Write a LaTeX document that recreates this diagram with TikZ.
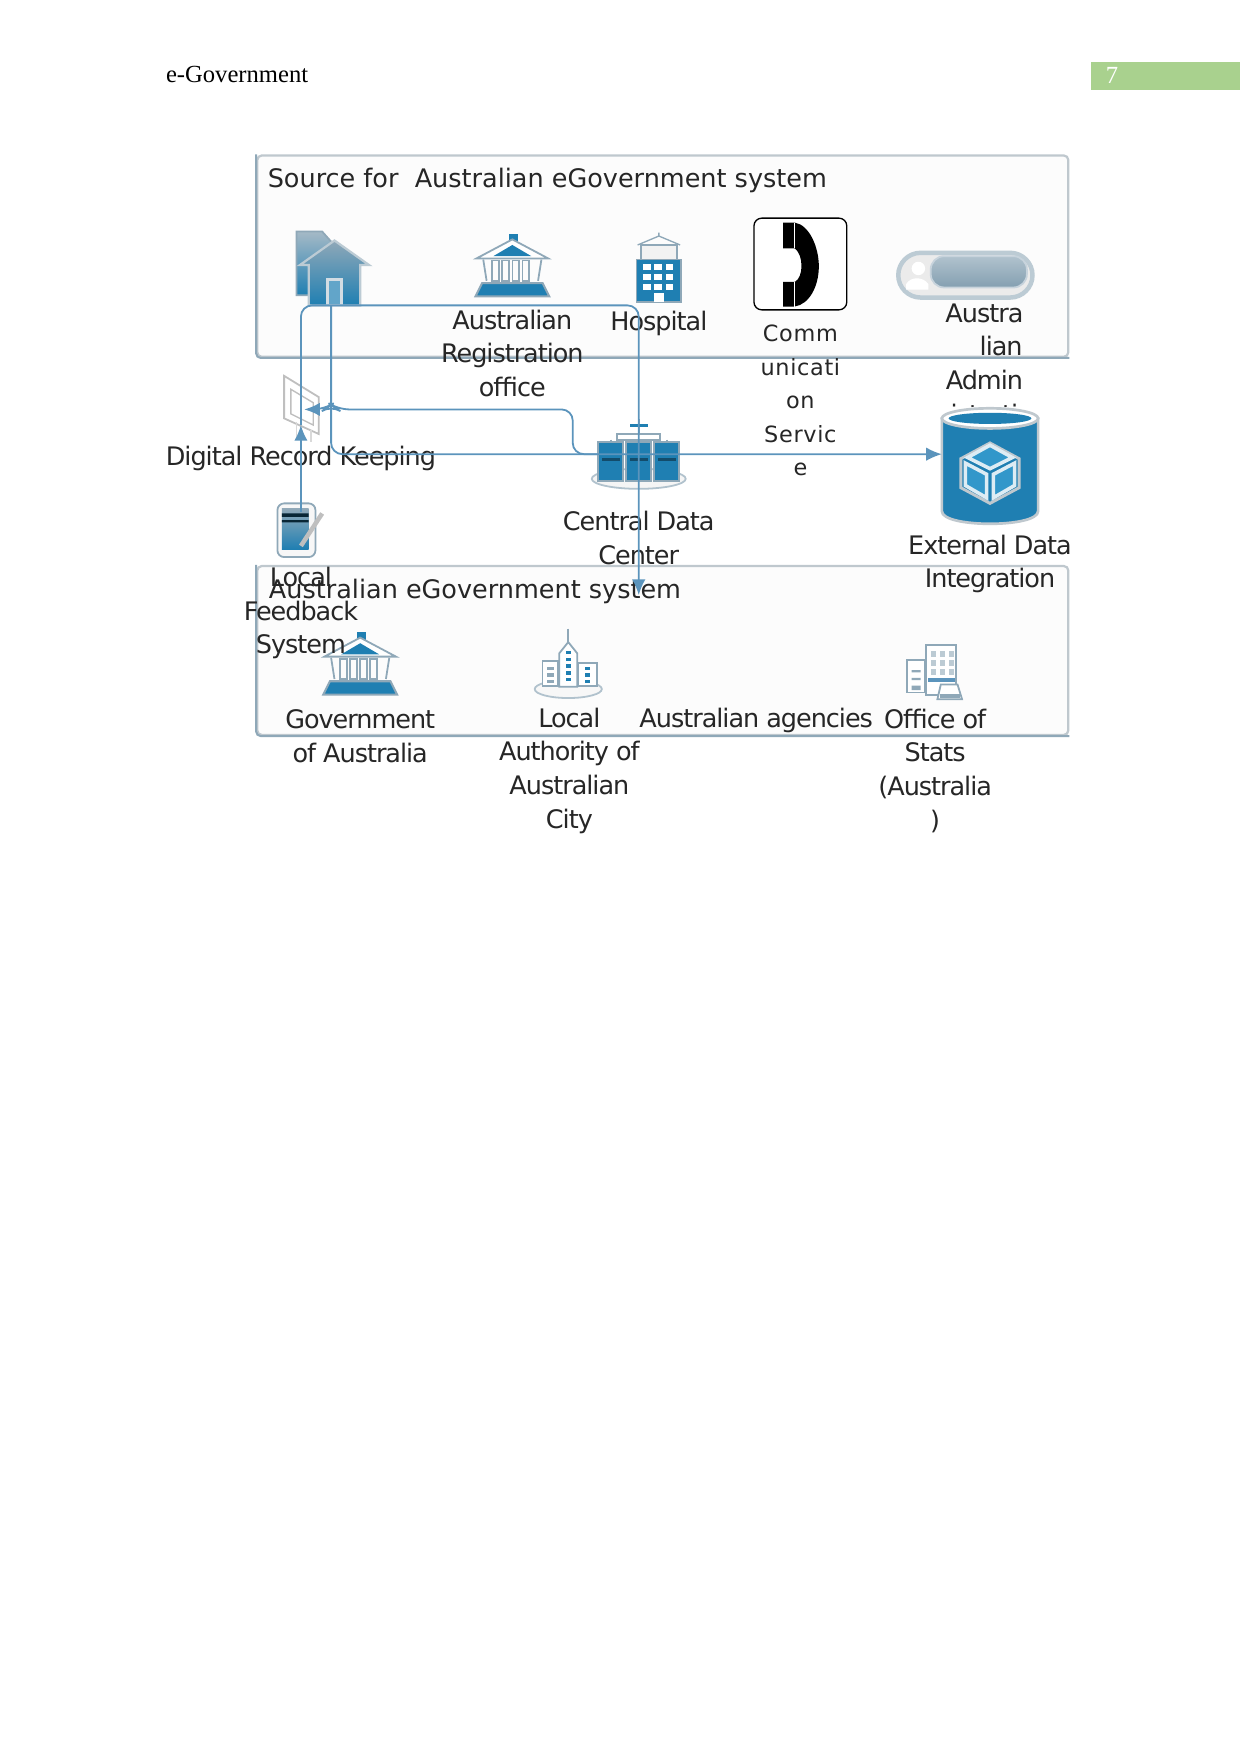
\documentclass[tikz,border=0pt]{standalone}
\usepackage{fontspec}
\setmainfont{Liberation Serif}
\newfontfamily\labelfont[LetterSpace=-4]{DejaVu Sans}
\newfontfamily\wordfont{DejaVu Sans}
\newfontfamily\commfont[LetterSpace=3]{DejaVu Sans}
\usetikzlibrary{arrows.meta}
\definecolor{flowblue}{HTML}{5B94BC}
\definecolor{iconblue}{HTML}{1F7FB2}
\definecolor{iconline}{HTML}{8FA8B8}
\definecolor{edgegray}{HTML}{BFC8CE}
\definecolor{pagegreen}{HTML}{A9D18E}
\tikzset{
    lbl/.style={align=center,inner sep=0pt,text=black!85,font=\labelfont\fontsize{11.4}{15}\selectfont},
    commlbl/.style={lbl,font=\commfont\fontsize{10}{15}\selectfont},
    boxtitle/.style={anchor=west,inner sep=0pt,text=black!85,font=\wordfont\fontsize{11.4}{15}\selectfont},
    groupbox/.style={draw=edgegray,line width=1pt,fill=black!1,rounded corners=2pt,inner sep=0pt},
    groupedge/.style={draw=iconline,line width=.9pt,rounded corners=2pt},
    iconspot/.style={inner sep=0pt,outer sep=0pt},
    flow/.style={draw=flowblue,line width=.8pt,rounded corners=5pt},
    tip/.style={-{Latex[length=7pt,width=6pt]}},
    govicon/.pic={
        \fill[iconblue] (-3,-29) rectangle (5,-22);
        \draw[iconline,line width=.8pt,fill=white] (-32,-7)--(0,-24)--(32,-7)--cycle;
        \fill[iconblue] (-17,-9)--(0,-19)--(17,-9)--cycle;
        \foreach \i in {-18,-9,0,9} \draw[iconline,line width=.7pt] (\i,-5) rectangle (\i+6,13);
        \draw[iconline,line width=.8pt] (-26,-6) -- (-23,13) (26,-6) -- (23,13);
        \draw[iconline,line width=.9pt,fill=iconblue] (-33,27)--(-27,15)--(27,15)--(33,27)--cycle;
    },
    homeicon/.pic={
        \draw[iconline,line width=.8pt,top color=iconline!80,bottom color=iconblue] (-31,-33)--(-8,-33)--(0,-24)--(0,24)--(-31,24)--cycle;
        \draw[iconline!60,line width=1pt,top color=iconline,bottom color=iconblue] (-20,33)--(-20,-3)--(-28,-3)--(3,-25)--(34,-3)--(26,-3)--(26,33)--cycle;
        \draw[iconline!40,line width=1.4pt,fill=iconblue!70] (-3,33)--(-3,10)--(9,10)--(9,33)--cycle;
    },
    hospicon/.pic={
        \draw[iconline,line width=.8pt,fill=black!5] (-16,-20) rectangle (16,-7);
        \draw[iconline,line width=.6pt] (-19,-20)--(0,-28)--(19,-20) (0,-28)--(0,-31);
        \draw[iconline,line width=.8pt,fill=iconblue] (-20,-7) rectangle (20,31);
        \foreach \i in {-14,-4,6} \foreach \j in {-3,6,15} \fill[white] (\i,\j) rectangle (\i+7,\j+5);
        \fill[white] (-4,23) rectangle (5,31);
    },
    phoneicon/.pic={
        \fill[black] (-15.5,-37)--(-5,-37) .. controls (8,-35) and (16.5,-15) .. (16.5,2) .. controls (16.5,20) and (8,36) .. (-5,38) --(-15.5,38)--(-15.5,16)--(-5,16) .. controls (3,12) and (3,-8) .. (-5,-14)--(-15.5,-14)--cycle;
        \draw[white,line width=.4pt] (-5,-37)--(-5,-14) (-5,16)--(-5,38);
    },
    adminicon/.pic={
        \draw[iconline!60,line width=2pt,fill=black!8,rounded corners=10pt] (-60,-20) rectangle (60,20);
        \draw[iconline!50,line width=.8pt,top color=iconline!70,bottom color=iconline!110,rounded corners=6pt] (-31,-17) rectangle (55,11);
        \fill[white] (-42,-6) circle (6);
        \fill[white] (-53,13)--(-53,8) .. controls (-49,1) and (-38,1) .. (-33,8)--(-33,13)--cycle;
    },
    storeicon/.pic={
        \fill[white] (-46,-52) rectangle (46,55);
        \draw[edgegray,line width=1.2pt,fill=iconblue] (-43,-42)--(-43,41) .. controls (-43,56) and (43,56) .. (43,41)--(43,-42)--cycle;
        \draw[edgegray,line width=1.2pt,fill=white] (0,-42) ellipse [x radius=43,y radius=9];
        \fill[iconblue] (0,-42) ellipse [x radius=37,y radius=5];
        \draw[edgegray,line width=1.3pt,fill=iconblue] (0,-20)--(26,-6)--(26,20)--(0,34)--(-26,20)--(-26,-6)--cycle;
        \draw[white!85!iconblue,line width=1.6pt,fill=cyan!50!iconblue] (0,-18)--(20,-7)--(0,3)--(-20,-7)--cycle;
        \draw[white!85!iconblue,line width=1.6pt,fill=cyan!50!iconblue] (-22,-2)--(-3,8)--(-3,29)--(-22,18)--cycle;
        \draw[white!85!iconblue,line width=1.6pt,fill=cyan!50!iconblue] (22,-2)--(3,8)--(3,29)--(22,18)--cycle;
    },
    recordicon/.pic={
        \draw[black!25,line width=.8pt,fill=white] (-15,-30)--(16,-11)--(16,22)--(-15,8)--cycle;
        \draw[black!25,line width=.6pt] (-9,-18)--(11,-6)--(11,14)--(-9,4)--cycle;
        \draw[black!15,line width=.8pt] (-4,11)--(-4,27) (9,18)--(9,29);
    },
    dataicon/.pic={
        \draw[iconline!70,line width=.8pt,fill=black!4] (0,22) ellipse [x radius=42,y radius=9];
        \draw[iconline,line width=.9pt] (0,-31)--(0,-18) (-19,-18) rectangle (19,-13) (-25,-13)--(-25,-11) (25,-13)--(25,-11);
        \fill[iconblue] (-8,-27) rectangle (8,-24);
        \foreach \i in {-36,-11,14} {
            \draw[iconline,line width=.9pt,fill=iconblue] (\i,-11) rectangle (\i+22,24);
            \fill[black!40!iconblue] (\i+3,3) rectangle (\i+19,6);
        }
    },
    feedicon/.pic={
        \draw[iconline,line width=.8pt,fill=black!3,rounded corners=3pt] (-21,-24) rectangle (13,24);
        \fill[top color=iconline,bottom color=iconblue] (-17,-19) rectangle (7,17);
        \fill[black!70!iconblue] (-17,-15) rectangle (7,-12) (-17,-9) rectangle (7,-7);
        \draw[black!25,line width=2pt] (0,14)--(19,-15);
    },
    townicon/.pic={
        \draw[iconline!70,line width=.8pt,fill=black!3] (0,22) ellipse [x radius=30,y radius=8];
        \draw[iconline,line width=.7pt] (0,-32)--(0,-20);
        \draw[iconline,line width=.8pt,fill=white] (-8,20)--(-8,-10)--(0,-20)--(8,-10)--(8,20)--cycle;
        \draw[iconline,line width=.8pt,fill=white] (-23,19) rectangle (-9,-3) (9,19) rectangle (26,-1);
        \foreach \j in {-12,-6,...,12} \fill[iconblue] (-2,\j) rectangle (2,\j+3);
        \foreach \j in {2,8,14} {
            \fill[iconline] (-19,\j) rectangle (-13,\j+3);
            \fill[iconblue] (15,\j) rectangle (19,\j+3);
        }
    },
    officeicon/.pic={
        \draw[iconline,line width=.8pt,fill=white] (-25,-11) rectangle (-9,18);
        \fill[iconline] (-21,-2) rectangle (-13,0) (-21,5) rectangle (-13,7) (-21,12) rectangle (-13,16);
        \draw[iconline,line width=.9pt,fill=white] (-8,-24) rectangle (19,20);
        \foreach \i in {-4,4,12} \foreach \j in {-19,-11,-3} \fill[iconline!60] (\i,\j) rectangle (\i+5,\j+5);
        \fill[flowblue] (-6,5) rectangle (18,9);
        \draw[iconline,line width=.8pt,fill=white] (2,24)--(5,11)--(20,11)--(24,24)--cycle;
        \fill[iconline] (4,19) rectangle (22,23);
    },
}
\begin{document}
\begin{tikzpicture}[x=.5pt,y=-.5pt]
        \useasboundingbox (0,0) rectangle (1109,1568);
        
        % running head
        \node[anchor=west,inner sep=0pt,font=\fontsize{11}{15}\selectfont] (head) at (148,67) {e-Government};
        \node[anchor=north west,fill=pagegreen,minimum width=66.5pt,minimum height=12.5pt,inner sep=0pt] (pagebar) at (975,55) {};
        \node[inner sep=0pt,text=white,font=\fontsize{11}{15}\selectfont] (pageno) at (994,67) {7};
        
        % the two group boxes
        \node[groupbox,minimum width=362.5pt,minimum height=90pt] (srcbox) at (592.5,229) {};
        \draw[groupedge] (srcbox.north west)--(srcbox.south west)--(srcbox.south east);
        \node[groupbox,minimum width=362.5pt,minimum height=75.5pt] (govbox) at (592.5,581.5) {};
        \draw[groupedge] (govbox.north west)--(govbox.south west)--(govbox.south east);
        \node[boxtitle] (srctitle) at (239,161) {Source for\ \ Australian eGovernment system};
        \node[boxtitle] (govtitle) at (240,529) {Australian eGovernment system};
        
        % icons
        \node[iconspot,minimum width=30pt,minimum height=33pt] (home) at (296,240) {};
        \pic at (home) {homeicon};
        \node[iconspot,minimum width=32pt,minimum height=30pt] (regoff) at (458,238) {};
        \pic at (regoff) {govicon};
        \node[iconspot,minimum width=20pt,minimum height=31pt] (hospital) at (589,239) {};
        \pic at (hospital) {hospicon};
        \node[draw=black,line width=.6pt,fill=white,rounded corners=3.5pt,minimum width=41.5pt,minimum height=41pt,inner sep=0pt] (phone) at (715.5,236) {};
        \pic at (phone) {phoneicon};
        \node[iconspot,minimum width=61pt,minimum height=22pt] (admin) at (863,246) {};
        \pic at (admin) {adminicon};
        \node[iconspot,minimum width=3pt,minimum height=14pt] (digital) at (269,366) {};
        \pic at (269,366) {recordicon};
        \node[iconspot,minimum width=37pt,minimum height=30pt] (central) at (571,406) {};
        \pic at (central) {dataicon};
        \node[iconspot,minimum width=36pt,minimum height=16pt] (feedback) at (269,474) {};
        \pic at (feedback) {feedicon};
        \node[iconspot,minimum width=22pt,minimum height=28pt] (gov) at (322,594) {};
        \pic at (gov) {govicon};
        \node[iconspot,minimum width=30pt,minimum height=28pt] (town) at (508,594) {};
        \pic at (town) {townicon};
        \node[iconspot,minimum width=25pt,minimum height=25pt] (office) at (836,601) {};
        \pic at (office) {officeicon};
        
        % labels
        \node[lbl] (regofflbl) at (458,316) {Australian\\Registration\\office};
        \node[lbl] (hosplbl) at (589,289) {Hospital};
        \node[commlbl] (phonelbl) at (715.5,358) {Comm\\unicati\\on\\Servic\\e};
        \node[lbl] (adminlbl) at (880,325) {Austra\\\hspace*{15pt}lian\\Admin\\istrati};
        \node[lbl] (digitallbl) at (269,410) {Digital Record Keeping};
        \node[lbl] (centrallbl) at (571,481) {Central Data\\Center};
        \node[lbl] (feedlbl) at (269,548) {Local\\Feedback\\System};
        \node[lbl] (govlbl) at (322,658) {Government\\of Australia};
        \node[lbl] (townlbl) at (509,689) {Local\\Authority of\\Australian\\City};
        \node[lbl] (agencylbl) at (676,644) {Australian agencies};
        \node[lbl] (officelbl) at (836,689) {Office of\\Stats\\(Australia\\)};
        
        % data store goes over the end of the cut off label
        \node[iconspot,minimum width=43pt,minimum height=32pt] (store) at (885,406) {};
        \pic at (885,416) {storeicon};
        \node[lbl] (storelbl) at (885,504) {External Data\\Integration};
        
        % connectors
        \coordinate (govin) at (571,532);
        \coordinate (upleft) at (512,406);
        \coordinate (uptop) at (512,366);
        \coordinate (bumpa) at (302,366);
        \coordinate (bumpb) at (296,362);
        \coordinate (bumpc) at (290,366);
        \draw[flow,tip] (feedback.north) -- (digital.south);
        \draw[flow,tip] (digital.south) |- (govin |- home.south) -- (govin);
        \draw[flow,tip] (home.south) |- (store.west);
        \draw[flow,tip] (central.west) -- (upleft) -- (uptop) -- (bumpa) -- (bumpb) -- (bumpc) -- (digital.east);
    \end{tikzpicture}
\end{document}
